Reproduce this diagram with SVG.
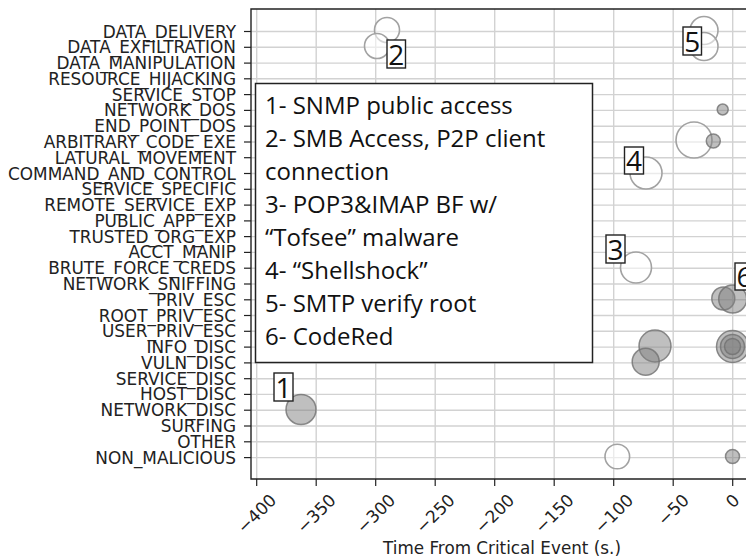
<svg xmlns="http://www.w3.org/2000/svg" width="746" height="559" viewBox="0 0 746 559">
<style>
.grid line{stroke:#d2d2d2;stroke-width:1.4}
.spine{stroke:#222;stroke-width:1.4;fill:none}
.tick line{stroke:#222;stroke-width:1.2}
.ylab{font-family:"DejaVu Sans",sans-serif;font-size:16.9px;fill:#222;text-anchor:end}
.xlab{font-family:"DejaVu Sans",sans-serif;font-size:17px;fill:#222;text-anchor:middle;dominant-baseline:central}
.title{font-family:"DejaVu Sans",sans-serif;font-size:16.8px;fill:#222;text-anchor:middle}
.hol{fill:#fff;fill-opacity:.55;stroke:#a2a2a2;stroke-width:1.6}
.fil{fill:#808080;fill-opacity:.5;stroke:#707070;stroke-opacity:.8;stroke-width:1.5}
.legbox{fill:#fff;stroke:#222;stroke-width:1.5}
.leg{font-family:"Open Sans","Liberation Sans",sans-serif;font-size:24px;fill:#111}
.nbox{fill:#fff;stroke:#222;stroke-width:1.4}
.num{font-family:"Open Sans","Liberation Sans",sans-serif;font-size:28px;fill:#111;text-anchor:middle}
</style>
<rect x="0" y="0" width="746" height="559" fill="#fff"/>
<g id="grid" class="grid">
<line x1="251" y1="31.5" x2="746" y2="31.5"/>
<line x1="251" y1="47.3" x2="746" y2="47.3"/>
<line x1="251" y1="63.1" x2="746" y2="63.1"/>
<line x1="251" y1="78.8" x2="746" y2="78.8"/>
<line x1="251" y1="94.6" x2="746" y2="94.6"/>
<line x1="251" y1="110.4" x2="746" y2="110.4"/>
<line x1="251" y1="126.2" x2="746" y2="126.2"/>
<line x1="251" y1="142" x2="746" y2="142"/>
<line x1="251" y1="157.7" x2="746" y2="157.7"/>
<line x1="251" y1="173.5" x2="746" y2="173.5"/>
<line x1="251" y1="189.3" x2="746" y2="189.3"/>
<line x1="251" y1="205.1" x2="746" y2="205.1"/>
<line x1="251" y1="220.9" x2="746" y2="220.9"/>
<line x1="251" y1="236.6" x2="746" y2="236.6"/>
<line x1="251" y1="252.4" x2="746" y2="252.4"/>
<line x1="251" y1="268.2" x2="746" y2="268.2"/>
<line x1="251" y1="284" x2="746" y2="284"/>
<line x1="251" y1="299.8" x2="746" y2="299.8"/>
<line x1="251" y1="315.5" x2="746" y2="315.5"/>
<line x1="251" y1="331.3" x2="746" y2="331.3"/>
<line x1="251" y1="347.1" x2="746" y2="347.1"/>
<line x1="251" y1="362.9" x2="746" y2="362.9"/>
<line x1="251" y1="378.7" x2="746" y2="378.7"/>
<line x1="251" y1="394.4" x2="746" y2="394.4"/>
<line x1="251" y1="410.2" x2="746" y2="410.2"/>
<line x1="251" y1="426" x2="746" y2="426"/>
<line x1="251" y1="441.8" x2="746" y2="441.8"/>
<line x1="251" y1="457.6" x2="746" y2="457.6"/>
<line x1="256.7" y1="9" x2="256.7" y2="479"/>
<line x1="316.2" y1="9" x2="316.2" y2="479"/>
<line x1="375.7" y1="9" x2="375.7" y2="479"/>
<line x1="435.2" y1="9" x2="435.2" y2="479"/>
<line x1="494.7" y1="9" x2="494.7" y2="479"/>
<line x1="554.2" y1="9" x2="554.2" y2="479"/>
<line x1="613.7" y1="9" x2="613.7" y2="479"/>
<line x1="673.2" y1="9" x2="673.2" y2="479"/>
<line x1="732.7" y1="9" x2="732.7" y2="479"/>
</g>
<g id="points">
<circle class="hol" cx="387" cy="30" r="12.5"/>
<circle class="hol" cx="377" cy="46" r="12.5"/>
<circle class="hol" cx="704" cy="30.5" r="14"/>
<circle class="hol" cx="704" cy="46.5" r="14"/>
<circle class="fil" cx="722.7" cy="109.5" r="5.5"/>
<circle class="hol" cx="694" cy="140" r="18"/>
<circle class="fil" cx="713.3" cy="141" r="7"/>
<circle class="hol" cx="646" cy="173" r="16"/>
<circle class="hol" cx="636" cy="267.5" r="15.5"/>
<circle class="fil" cx="723.3" cy="298.5" r="11.5"/>
<circle class="fil" cx="732.7" cy="299" r="14"/>
<circle class="fil" cx="655" cy="346" r="16"/>
<circle class="fil" cx="645.7" cy="361.7" r="13.5"/>
<circle class="fil" cx="732.5" cy="346.5" r="16"/>
<circle class="fil" cx="732.5" cy="346.5" r="12"/>
<circle class="fil" cx="732.5" cy="346.5" r="8"/>
<circle class="fil" cx="301" cy="409.5" r="15"/>
<circle class="hol" cx="617.3" cy="456.5" r="12.3"/>
<circle class="fil" cx="732.5" cy="456.5" r="7"/>
</g>
<g id="axes">
<path class="spine" d="M746 9H251V479H746"/>
<g class="tick">
<line x1="244" y1="31.5" x2="251" y2="31.5"/>
<line x1="244" y1="47.3" x2="251" y2="47.3"/>
<line x1="244" y1="63.1" x2="251" y2="63.1"/>
<line x1="244" y1="78.8" x2="251" y2="78.8"/>
<line x1="244" y1="94.6" x2="251" y2="94.6"/>
<line x1="244" y1="110.4" x2="251" y2="110.4"/>
<line x1="244" y1="126.2" x2="251" y2="126.2"/>
<line x1="244" y1="142" x2="251" y2="142"/>
<line x1="244" y1="157.7" x2="251" y2="157.7"/>
<line x1="244" y1="173.5" x2="251" y2="173.5"/>
<line x1="244" y1="189.3" x2="251" y2="189.3"/>
<line x1="244" y1="205.1" x2="251" y2="205.1"/>
<line x1="244" y1="220.9" x2="251" y2="220.9"/>
<line x1="244" y1="236.6" x2="251" y2="236.6"/>
<line x1="244" y1="252.4" x2="251" y2="252.4"/>
<line x1="244" y1="268.2" x2="251" y2="268.2"/>
<line x1="244" y1="284" x2="251" y2="284"/>
<line x1="244" y1="299.8" x2="251" y2="299.8"/>
<line x1="244" y1="315.5" x2="251" y2="315.5"/>
<line x1="244" y1="331.3" x2="251" y2="331.3"/>
<line x1="244" y1="347.1" x2="251" y2="347.1"/>
<line x1="244" y1="362.9" x2="251" y2="362.9"/>
<line x1="244" y1="378.7" x2="251" y2="378.7"/>
<line x1="244" y1="394.4" x2="251" y2="394.4"/>
<line x1="244" y1="410.2" x2="251" y2="410.2"/>
<line x1="244" y1="426" x2="251" y2="426"/>
<line x1="244" y1="441.8" x2="251" y2="441.8"/>
<line x1="244" y1="457.6" x2="251" y2="457.6"/>
<line x1="256.7" y1="479" x2="256.7" y2="486"/>
<line x1="316.2" y1="479" x2="316.2" y2="486"/>
<line x1="375.7" y1="479" x2="375.7" y2="486"/>
<line x1="435.2" y1="479" x2="435.2" y2="486"/>
<line x1="494.7" y1="479" x2="494.7" y2="486"/>
<line x1="554.2" y1="479" x2="554.2" y2="486"/>
<line x1="613.7" y1="479" x2="613.7" y2="486"/>
<line x1="673.2" y1="479" x2="673.2" y2="486"/>
<line x1="732.7" y1="479" x2="732.7" y2="486"/>
</g>
</g>
<g id="ylabels" class="ylab">
<text x="236" y="37.5">DATA_DELIVERY</text>
<text x="236" y="53.3">DATA_EXFILTRATION</text>
<text x="236" y="69.1">DATA_MANIPULATION</text>
<text x="236" y="84.8">RESOURCE_HIJACKING</text>
<text x="236" y="100.6">SERVICE_STOP</text>
<text x="236" y="116.4">NETWORK_DOS</text>
<text x="236" y="132.2">END_POINT_DOS</text>
<text x="236" y="148">ARBITRARY_CODE_EXE</text>
<text x="236" y="163.7">LATURAL_MOVEMENT</text>
<text x="236" y="179.5">COMMAND_AND_CONTROL</text>
<text x="236" y="195.3">SERVICE_SPECIFIC</text>
<text x="236" y="211.1">REMOTE_SERVICE_EXP</text>
<text x="236" y="226.9">PUBLIC_APP_EXP</text>
<text x="236" y="242.6">TRUSTED_ORG_EXP</text>
<text x="236" y="258.4">ACCT_MANIP</text>
<text x="236" y="274.2">BRUTE_FORCE_CREDS</text>
<text x="236" y="290">NETWORK_SNIFFING</text>
<text x="236" y="305.8">PRIV_ESC</text>
<text x="236" y="321.5">ROOT_PRIV_ESC</text>
<text x="236" y="337.3">USER_PRIV_ESC</text>
<text x="236" y="353.1">INFO_DISC</text>
<text x="236" y="368.9">VULN_DISC</text>
<text x="236" y="384.7">SERVICE_DISC</text>
<text x="236" y="400.4">HOST_DISC</text>
<text x="236" y="416.2">NETWORK_DISC</text>
<text x="236" y="432">SURFING</text>
<text x="236" y="447.8">OTHER</text>
<text x="236" y="463.6">NON_MALICIOUS</text>
</g>
<g id="xlabels" class="xlab">
<text transform="translate(256.7 513.5) rotate(-45)">−400</text>
<text transform="translate(316.2 513.5) rotate(-45)">−350</text>
<text transform="translate(375.7 513.5) rotate(-45)">−300</text>
<text transform="translate(435.2 513.5) rotate(-45)">−250</text>
<text transform="translate(494.7 513.5) rotate(-45)">−200</text>
<text transform="translate(554.2 513.5) rotate(-45)">−150</text>
<text transform="translate(613.7 513.5) rotate(-45)">−100</text>
<text transform="translate(673.2 509.7) rotate(-45)">−50</text>
<text transform="translate(732.7 501) rotate(-45)">0</text>
</g>
<text id="xtitle" class="title" x="502" y="554">Time From Critical Event (s.)</text>
<g id="legend">
<rect class="legbox" x="255.5" y="83.5" width="337" height="279"/>
<text class="leg" x="265" y="114">1- SNMP public access</text>
<text class="leg" x="265" y="147">2- SMB Access, P2P client</text>
<text class="leg" x="265" y="180">connection</text>
<text class="leg" x="265" y="213">3- POP3&amp;IMAP BF w/</text>
<text class="leg" x="265" y="246">“Tofsee” malware</text>
<text class="leg" x="265" y="279">4- “Shellshock”</text>
<text class="leg" x="265" y="312">5- SMTP verify root</text>
<text class="leg" x="265" y="345">6- CodeRed</text>
</g>
<g id="label1"><rect class="nbox" x="274" y="373" width="19" height="28"/><text class="num" x="283.5" y="397.5">1</text></g>
<g id="label2"><rect class="nbox" x="387" y="40" width="18.5" height="28"/><text class="num" x="396.2" y="64.5">2</text></g>
<g id="label3"><rect class="nbox" x="606" y="235" width="19" height="28"/><text class="num" x="615.5" y="259.5">3</text></g>
<g id="label4"><rect class="nbox" x="624.5" y="147" width="19" height="27"/><text class="num" x="634" y="171">4</text></g>
<g id="label5"><rect class="nbox" x="683" y="27" width="18.5" height="28"/><text class="num" x="692.2" y="51.5">5</text></g>
<g id="label6"><rect class="nbox" x="735" y="263" width="19" height="27"/><text class="num" x="744.5" y="287">6</text></g>
</svg>
